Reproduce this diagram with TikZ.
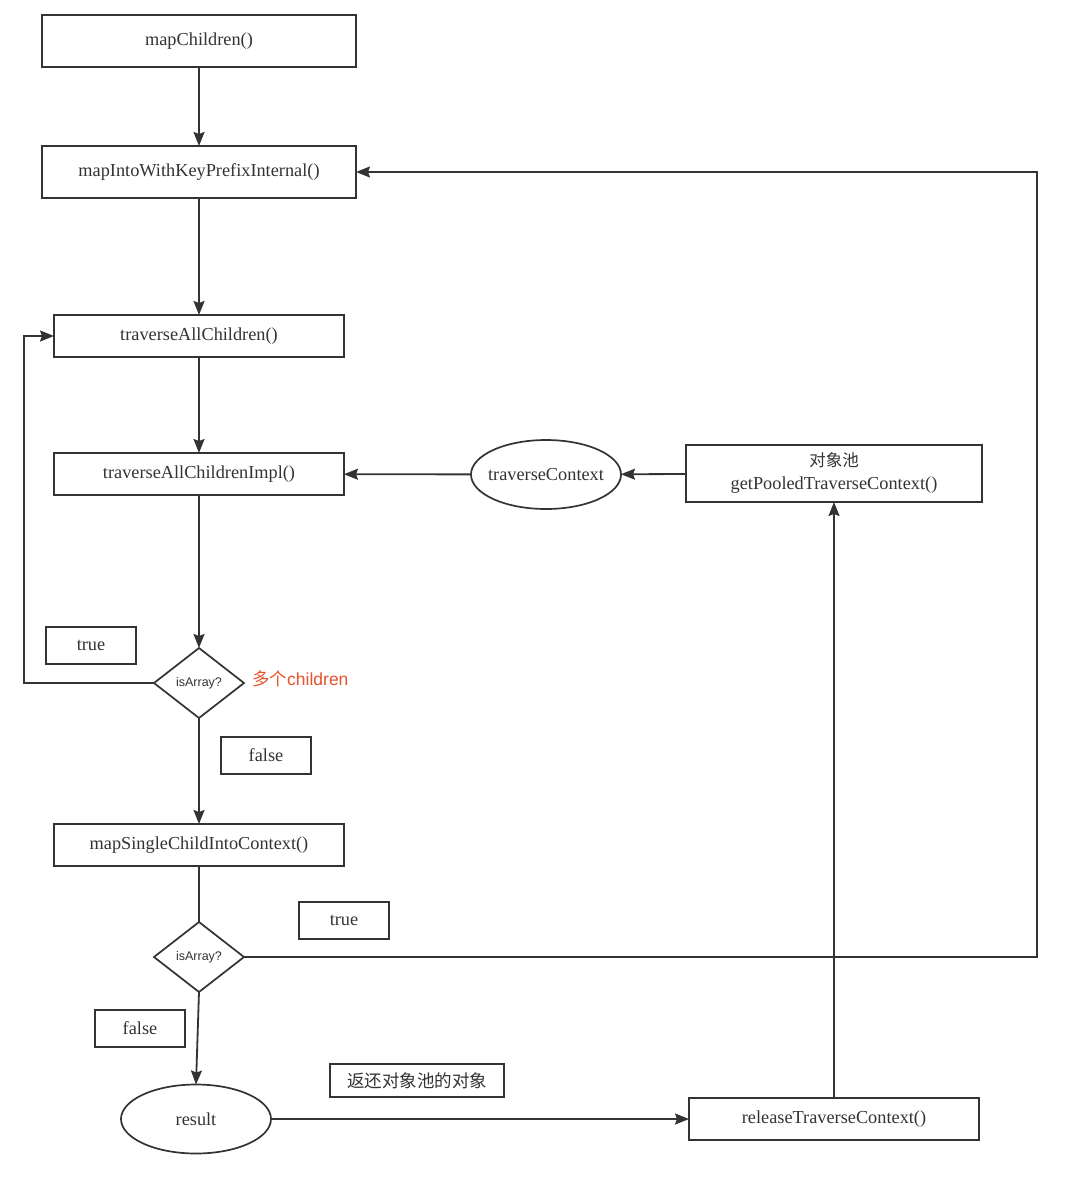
\documentclass[tikz,border=0pt]{standalone}
\usepackage{fontspec}
\setmainfont{Liberation Serif}
\newfontfamily\cjk{Noto Sans CJK SC}
\newfontfamily\hel{Liberation Sans}
\usetikzlibrary{shapes.geometric,arrows.meta}
\definecolor{ln}{HTML}{333333}
\definecolor{redtxt}{HTML}{E5532C}
\tikzset{
  box/.style={draw=ln,line width=1.7pt,rectangle,inner sep=0pt,outer sep=0pt,font=\fontsize{18.3}{21}\selectfont,text=ln},
  bigbox/.style={box,minimum width=314pt,minimum height=52pt},
  midbox/.style={box,minimum width=290pt,minimum height=42pt},
  lab/.style={box,minimum width=90pt,minimum height=37pt},
  oval/.style={draw=ln,line width=1.7pt,ellipse,inner xsep=-6pt,inner ysep=0pt,outer sep=0pt,minimum width=150pt,minimum height=69pt,font=\fontsize{18.3}{21}\selectfont,text=ln},
  dia/.style={draw=ln,line width=1.7pt,diamond,aspect=1.3,inner sep=0pt,outer sep=0pt,minimum width=90pt,minimum height=70pt,font=\hel\fontsize{12.5}{14}\selectfont,text=ln},
  conn/.style={draw=ln,line width=1.8pt},
  arr/.style={conn,-{Stealth[length=14pt,width=11pt,inset=2pt]}},
}
\begin{document}
\begin{tikzpicture}[x=1pt,y=-1pt]
\useasboundingbox[fill=white] (0,0) rectangle (1089,1200);
\node[bigbox] (mc) at (199,41) {mapChildren()};
\node[bigbox] (mi) at (199,172) {mapIntoWithKeyPrefixInternal()};
\node[midbox] (tac) at (199,336) {traverseAllChildren()};
\node[midbox] (taci) at (199,474) {traverseAllChildrenImpl()};
\node[oval] (tctx) at (546,474.5) {traverseContext};
\node[box,minimum width=296pt,minimum height=57pt,align=center] (pool) at (834,473.5) {{\cjk\fontsize{16.5}{20}\selectfont 对象池}\\[2pt]getPooledTraverseContext()};
\node[lab] (t1) at (91,645.5) {true};
\node[dia] (d1) at (199,683) {isArray?};
\node[anchor=west,text=redtxt,font=\fontsize{17.5}{20}\selectfont,inner sep=0pt] (multi) at (252,679) {{\cjk 多个}{\hel children}};
\node[lab] (f1) at (266,755.5) {false};
\node[midbox] (ms) at (199,845) {mapSingleChildIntoContext()};
\node[lab] (t2) at (344,920.5) {true};
\node[dia] (d2) at (199,957) {isArray?};
\node[lab] (f2) at (140,1028.5) {false};
\node[oval] (res) at (196,1119) {result};
\node[box,minimum width=174pt,minimum height=33pt,font=\cjk\fontsize{17.5}{20}\selectfont] (ret) at (417,1080.5) {返还对象池的对象};
\node[midbox] (rel) at (834,1119) {releaseTraverseContext()};
\coordinate (c1) at (24,683);
\coordinate (c2) at (24,336);
\coordinate (c3) at (1037,957);
\coordinate (c4) at (1037,172);
\draw[arr] (mc) -- (mi);
\draw[arr] (mi) -- (tac);
\draw[arr] (tac) -- (taci);
\draw[arr] (taci) -- (d1);
\draw[arr] (d1.west) -- (c1) -- (c2) -- (tac.west);
\draw[arr] (d1) -- (ms);
\draw[conn] (ms) -- (d2);
\draw[arr] (d2.east) -- (c3) -- (c4) -- (mi.east);
\draw[arr] (d2.south) -- (res.north);
\draw[arr] (res) -- (rel);
\draw[arr] (rel) -- (pool);
\draw[arr] (pool) -- (tctx);
\draw[arr] (tctx) -- (taci);
\end{tikzpicture}
\end{document}
